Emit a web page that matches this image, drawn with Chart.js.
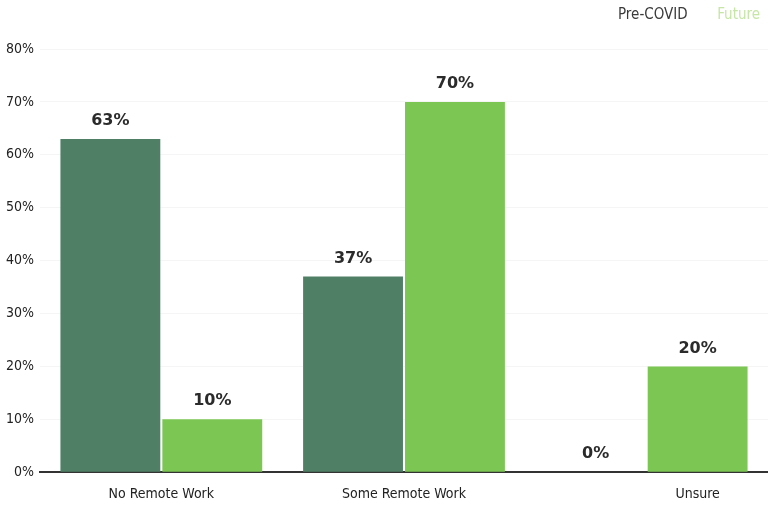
<!DOCTYPE html>
<html>
<head>
<meta charset="utf-8">
<script src="https://cdn.jsdelivr.net/npm/chart.js@4"></script>
<style>
  html, body { margin: 0; padding: 0; background: #fff; }
  #wrap { width: 768px; height: 508px; }
</style>
</head>
<body>
<div id="wrap"><canvas id="myChart"></canvas></div>
<script>
const categories = ['No Remote Work', 'Some Remote Work', 'Unsure'];
const preCovid = [63, 37, 0];
const future = [10, 70, 20];
const yTicks = [0, 10, 20, 30, 40, 50, 60, 70, 80];

const darkGreen = '#4f8066';
const lightGreen = '#7cc653';
const condensed = '"DejaVu Sans Condensed", "Liberation Sans Narrow", sans-serif';

// percent labels above each bar, and category names under the bars that have values
const barLabels = {
  id: 'barLabels',
  beforeInit(chart) {
    const fit = chart.legend.fit;
    chart.legend.fit = function () {
      fit.call(this);
      this.height += 16;
    };
  },
  afterDatasetsDraw(chart) {
    const ctx = chart.ctx;
    const metas = chart.data.datasets.map((ds, i) => chart.getDatasetMeta(i));
    ctx.save();
    ctx.font = 'bold 16px "DejaVu Sans", sans-serif';
    ctx.fillStyle = '#2b2b2b';
    ctx.textAlign = 'center';
    ctx.textBaseline = 'bottom';
    chart.data.datasets.forEach((ds, i) => {
      metas[i].data.forEach((bar, j) => {
        ctx.fillText(ds.data[j] + '%', bar.x, bar.y - 10);
      });
    });
    ctx.font = '14px ' + condensed;
    ctx.fillStyle = '#222';
    ctx.textBaseline = 'middle';
    const y = chart.scales.x.bottom - 14;
    categories.forEach((name, j) => {
      const xs = metas.filter((m, i) => chart.data.datasets[i].data[j] > 0).map(m => m.data[j].x);
      const x = xs.reduce((a, b) => a + b, 0) / xs.length;
      ctx.fillText(name, x, y);
    });
    ctx.restore();
  }
};

const data = {
  labels: categories,
  datasets: [
    { label: 'Pre-COVID', data: preCovid, backgroundColor: darkGreen },
    { label: 'Future', data: future, backgroundColor: lightGreen }
  ]
};

const config = {
  type: 'bar',
  data: data,
  options: {
    responsive: true,
    maintainAspectRatio: false,
    animation: false,
    layout: { padding: { left: 0, right: 0, top: 0, bottom: 0 } },
    datasets: { bar: { barPercentage: 0.98, categoryPercentage: 0.84 } },
    plugins: {
      tooltip: { enabled: false },
      legend: {
        position: 'top',
        align: 'end',
        labels: {
          boxWidth: 14,
          boxHeight: 0,
          padding: 8,
          font: { family: condensed, size: 15 },
          generateLabels(chart) {
            const cols = ['#3a3a3a', '#c6e6a6'];
            return chart.data.datasets.map((ds, i) => ({
              text: ds.label,
              fillStyle: 'rgba(0,0,0,0)',
              strokeStyle: 'rgba(0,0,0,0)',
              lineWidth: 0,
              fontColor: cols[i],
              datasetIndex: i
            }));
          }
        }
      }
    },
    scales: {
      x: {
        grid: { display: false },
        border: { color: '#333', width: 2 },
        ticks: { color: 'rgba(0,0,0,0)', font: { family: condensed, size: 14 }, padding: 5.5 }
      },
      y: {
        min: 0,
        max: 80,
        afterBuildTicks(axis) { axis.ticks = yTicks.map(v => ({ value: v })); },
        grid: { color: 'rgba(0,0,0,0.04)', drawTicks: false },
        border: { display: false },
        ticks: {
          color: '#222',
          padding: 6,
          font: { family: condensed, size: 14 },
          callback: v => v + '%'
        }
      }
    }
  },
  plugins: [barLabels]
};

const myChart = new Chart(document.getElementById('myChart'), config);
</script>
</body>
</html>
